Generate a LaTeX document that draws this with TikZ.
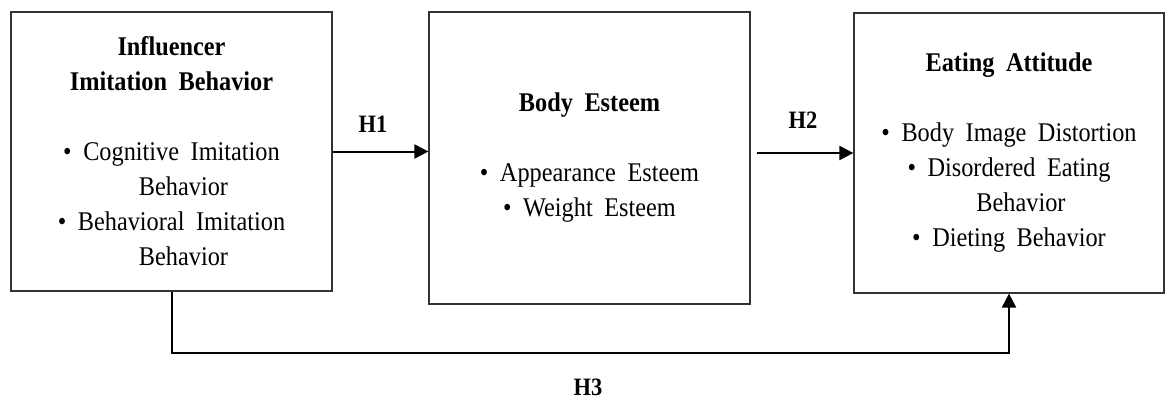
\documentclass[tikz,border=0pt]{standalone}
\usepackage{fontspec}
\setmainfont{Liberation Serif}[WordSpace=1.9, FakeStretch=0.9]
\usetikzlibrary{arrows.meta}

\tikzset{
    box/.style={draw=black!80, line width=1.2pt, align=center, inner sep=0pt,
        font=\fontsize{27}{35}\selectfont},
    link/.style={line width=2pt, -{Triangle[length=14pt,width=14pt]}},
    hyp/.style={inner sep=0pt, font=\fontsize{25}{30}\selectfont\bfseries}
}

\begin{document}
\begin{tikzpicture}[x=1pt, y=-1pt]
    \useasboundingbox (0,0) rectangle (1166,399);

    % constructs
    \node[box, minimum width=321pt, minimum height=279pt] (infl) at (171.5,151.5)
        {\textbf{Influencer}\\ \textbf{Imitation Behavior}\\[35pt]
         \textbullet\ Cognitive Imitation\\ \hspace{24pt}Behavior\\
         \textbullet\ Behavioral Imitation\\ \hspace{24pt}Behavior};
    \node[box, minimum width=321pt, minimum height=292pt] (body) at (589.5,158)
        {\textbf{Body Esteem}\\[35pt]
         \textbullet\ Appearance Esteem\\ \textbullet\ Weight Esteem};
    \node[box, minimum width=310pt, minimum height=280pt] (eat) at (1009,153)
        {\textbf{Eating Attitude}\\[35pt]
         \textbullet\ Body Image Distortion\\ \textbullet\ Disordered Eating\\
         \hspace{24pt}Behavior\\ \textbullet\ Dieting Behavior};

    % paths
    \draw[link] (infl.east) -- (infl.east -| body.west);
    \draw[link, shorten <=6pt] (eat.west -| body.east) -- (eat.west);
    \draw[link] (infl.south) -- ++(0,61) -| (eat.south);

    \node[hyp] (h1) at (373,124) {H1};
    \node[hyp] (h2) at (803,120) {H2};
    \node[hyp] (h3) at (588,387) {H3};
\end{tikzpicture}
\end{document}
